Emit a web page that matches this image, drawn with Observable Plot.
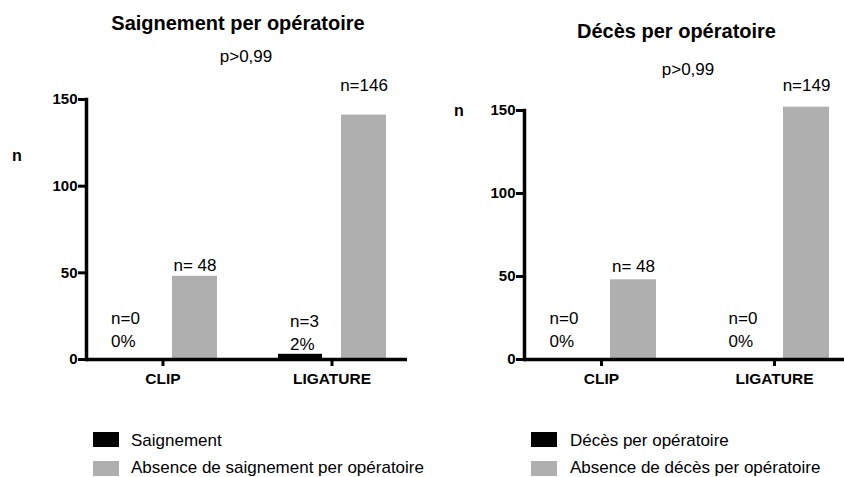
<!DOCTYPE html>
<html><head><meta charset="utf-8">
<script src="https://cdn.jsdelivr.net/npm/d3@7"></script>
<script src="https://cdn.jsdelivr.net/npm/@observablehq/plot@0.6"></script>
<style>
body{margin:0;background:#fff;font-family:"Liberation Sans",Arial,sans-serif;}
#root{position:relative;width:844px;height:477px;overflow:hidden;background:#fff;}
.t{position:absolute;white-space:nowrap;line-height:1;color:#000;}
.sw{position:absolute;width:26px;height:15px;}
svg{position:absolute;top:0;}
</style></head><body><div id="root"></div>
<script>
// ---- data ----
const categories = ["CLIP", "LIGATURE"];

const titleLeft = "Saignement per opératoire";
const seriesLeft = ["Saignement", "Absence de saignement per opératoire"];
const saignement = [0, 3];
const absenceSaignement = [48, 141];
const saignementLabels = ["n=0\n0%", "n=3\n2%"];
const absenceSaignementLabels = ["n= 48", "n=146"];

const titleRight = "Décès per opératoire";
const seriesRight = ["Décès per opératoire", "Absence de décès per opératoire"];
const deces = [0, 0];
const absenceDeces = [48, 152];
const decesLabels = ["n=0\n0%", "n=0\n0%"];
const absenceDecesLabels = ["n= 48", "n=149"];

const pValue = "p>0,99";
const yTicks = [0, 50, 100, 150];
const yLabel = "n";
const colors = ["#000000", "#afafaf"];

// ---- helpers ----
const root = document.getElementById("root");
function addText(txt, x, baseline, fs, bold, anchor) {
  const d = document.createElement("div");
  d.className = "t";
  d.textContent = txt;
  d.style.fontSize = fs + "px";
  d.style.fontWeight = bold ? "bold" : "normal";
  d.style.top = (baseline - 0.8465 * fs) + "px";
  if (anchor === "middle") {
    d.style.left = (x - 300) + "px";
    d.style.width = "600px";
    d.style.textAlign = "center";
  } else {
    d.style.left = x + "px";
  }
  root.appendChild(d);
}
function addSwatch(x, y, color) {
  const s = document.createElement("div");
  s.className = "sw";
  s.style.left = x + "px";
  s.style.top = y + "px";
  s.style.background = color;
  root.appendChild(s);
}

function panel(o) {
  const rows = categories.map((c, i) => ({
    cat: c, a: o.a[i], b: o.b[i], la: o.la[i], lb: o.lb[i]
  }));
  const txt = {fontSize: 17, fontFamily: "Liberation Sans, Arial, sans-serif", fill: "#000"};
  const svg = Plot.plot({
    width: 422,
    height: 399,
    marginLeft: o.marginLeft,
    marginRight: o.marginRight,
    marginTop: o.marginTop,
    marginBottom: 40,
    style: {fontFamily: "Liberation Sans, Arial, sans-serif", background: "transparent", overflow: "visible"},
    x: {domain: categories, range: o.xRange, paddingInner: o.pad, paddingOuter: 0, label: null},
    y: {domain: [0, 150], label: null},
    marks: [
      Plot.barY(rows, {x: "cat", y: "a", fill: colors[0], insetLeft: 6, insetRight: 69}),
      Plot.barY(rows, {x: "cat", y: "b", fill: colors[1], insetLeft: 69, insetRight: 5}),
      Plot.text(rows.filter(d => d.cat === "CLIP"), {x: "cat", y: "b", text: "lb", dx: 32, dy: o.dyB[0], lineAnchor: "bottom", ...txt}),
      Plot.text(rows.filter(d => d.cat === "LIGATURE"), {x: "cat", y: "b", text: "lb", dx: 32, dy: o.dyB[1], lineAnchor: "bottom", ...txt}),
      Plot.text(rows.filter(d => d.cat === "CLIP"), {x: "cat", y: 0, text: "la", dx: -52, dy: -13, textAnchor: "start", lineAnchor: "bottom", lineHeight: 1.3, ...txt}),
      Plot.text(rows.filter(d => d.cat === "LIGATURE"), {x: "cat", y: 0, text: "la", dx: o.dxA, dy: o.dyA, textAnchor: "start", lineAnchor: "bottom", lineHeight: 1.3, ...txt}),
      Plot.ruleY([0], {stroke: "#000", strokeWidth: 3.5}),
      Plot.frame({anchor: "left", stroke: "#000", strokeWidth: 3.5}),
      Plot.axisY({ticks: yTicks, tickSize: 8, tickPadding: 1, fontSize: 15, fontWeight: "bold", strokeWidth: 3, label: null}),
      Plot.axisX({tickSize: 7, tickPadding: 6, fontSize: 15.5, fontWeight: "bold", strokeWidth: 3, label: null})
    ]
  });
  svg.style.left = o.left + "px";
  root.appendChild(svg);
}

// ---- left panel ----
panel({left: 0, marginLeft: 86, marginRight: 15, marginTop: 99, xRange: [102, 392], pad: 0.2941,
  a: saignement, b: absenceSaignement, la: saignementLabels, lb: absenceSaignementLabels,
  dyB: [-5, -24], dxA: -42, dyA: -10});
addText(titleLeft, 238, 30, 20, true, "middle");
addText(pValue, 246, 62.5, 17, false, "middle");
addText(yLabel, 17, 162, 16, true, "middle");
addSwatch(93, 432, colors[0]);
addSwatch(93, 461, colors[1]);
addText(seriesLeft[0], 131, 446, 17, false, "start");
addText(seriesLeft[1], 131, 473, 17, false, "start");

// ---- right panel ----
panel({left: 422, marginLeft: 102, marginRight: 0, marginTop: 110, xRange: [119, 412], pad: 0.3064,
  a: deces, b: absenceDeces, la: decesLabels, lb: absenceDecesLabels,
  dyB: [-8, -16], dxA: -46, dyA: -13});
addText(titleRight, 676.5, 38, 20, true, "middle");
addText(pValue, 688, 75, 17, false, "middle");
addText(yLabel, 459, 117, 16, true, "middle");
addSwatch(531, 432, colors[0]);
addSwatch(531, 461, colors[1]);
addText(seriesRight[0], 570, 446, 17, false, "start");
addText(seriesRight[1], 570, 473, 17, false, "start");
</script></body></html>
